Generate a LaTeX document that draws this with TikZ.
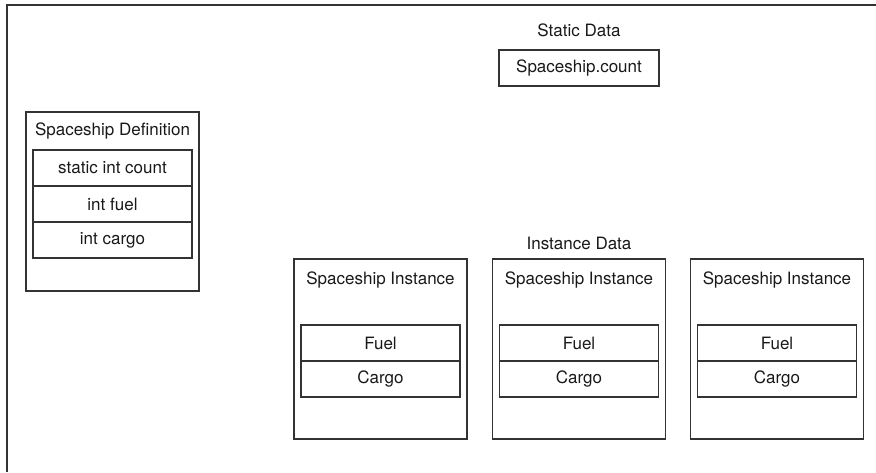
\documentclass[tikz,border=0pt]{standalone}
\usepackage{fontspec}
\setmainfont{TeX Gyre Heros}
\usepackage{tikz}

\begin{document}
\begin{tikzpicture}[x=1pt, y=-1pt,
    every node/.style={font=\fontsize{17}{20}\selectfont, text=black!90},
    frame/.style={draw=black!80, line width=1.3pt},
    outerbox/.style={draw=black!80, line width=1.3pt, minimum width=173pt, minimum height=180pt, inner sep=0pt},
    field/.style={draw=black!80, line width=1.3pt, minimum width=159pt, minimum height=36pt, inner sep=0pt}]
  \useasboundingbox (0,0) rectangle (876,472);

  % page frame
  \draw[frame] (7,472) -- (7,5) -- (876,5);

  % static data
  \node (statlbl) at (579,30) {Static Data};
  \node[field, minimum width=160pt] (count) at (579,68) {Spaceship.count};

  % class definition
  \node[outerbox, minimum height=179pt] (defbox) at (112.5,201.5) {};
  \node (deftitle) at (112.5,131) {Spaceship Definition};
  \node[field] (defcount) at (112.5,168) {static int count};
  \node[field] (deffuel) at (112.5,204) {int fuel};
  \node[field] (defcargo) at (112.5,240) {int cargo};

  % instances
  \node (instlbl) at (579,243) {Instance Data};
  \foreach \i/\x in {1/380.5, 2/579, 3/777} {
    \node[outerbox] (inst\i) at (\x,349) {};
    \node (insttitle\i) at (\x,280) {Spaceship Instance};
    \node[field] (fuel\i) at (\x,343) {Fuel};
    \node[field] (cargo\i) at (\x,379) {Cargo};
  }

\end{tikzpicture}
\end{document}
